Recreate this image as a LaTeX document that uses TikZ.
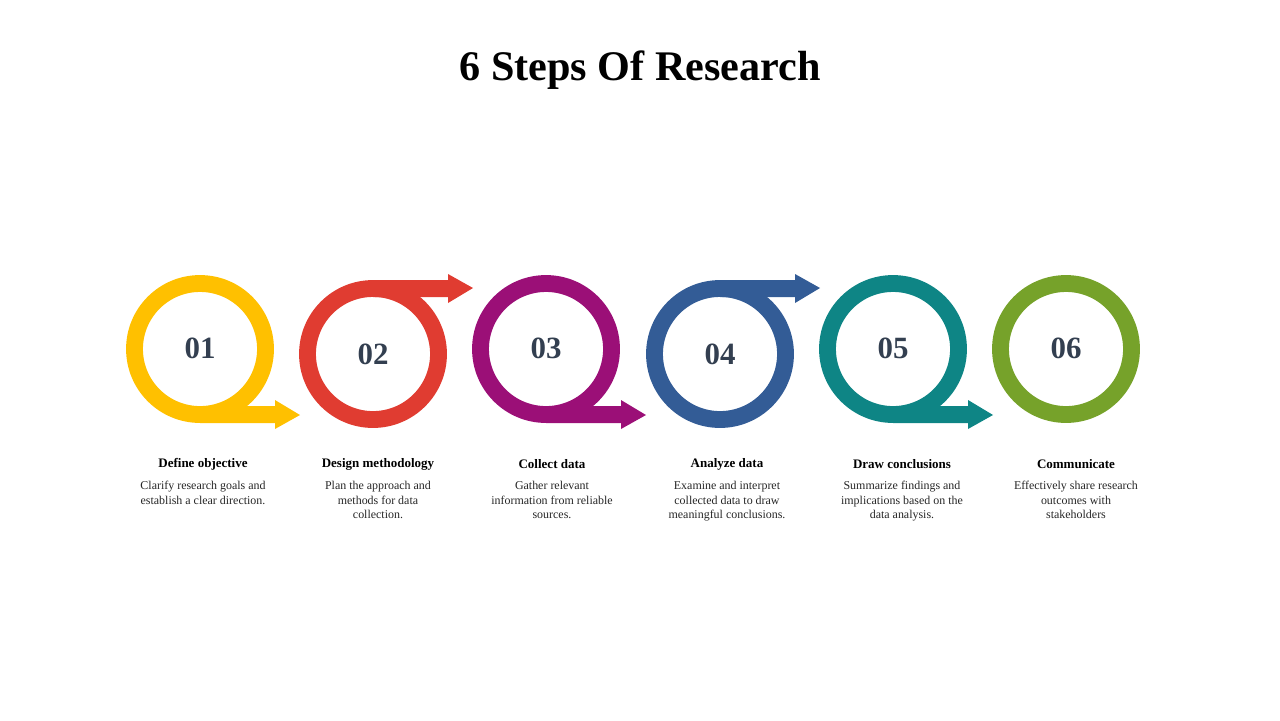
\documentclass[tikz,border=0pt]{standalone}
\usepackage{fontspec}
\setmainfont{Liberation Serif}
\usepackage{xcolor}
\usetikzlibrary{arrows, arrows.meta}
\definecolor{cyel}{HTML}{FFC000}
\definecolor{cred}{HTML}{E03C31}
\definecolor{cpur}{HTML}{9B0F77}
\definecolor{cblu}{HTML}{335C96}
\definecolor{ctea}{HTML}{0E8585}
\definecolor{cgre}{HTML}{76A22A}
\definecolor{cnum}{HTML}{333F50}
\tikzset{
  ring/.style={line width=24pt},
  num/.style={text=cnum, font=\fontsize{44}{44}\selectfont\bfseries},
  head/.style={font=\fontsize{18.5}{20}\selectfont\bfseries, align=center},
  desc/.style={font=\fontsize{17}{20.6}\selectfont, align=center, text=black!85}
}
% arrow along bottom (#4=1) or top (#4=-1) of a ring at (#1,#2)
\newcommand{\ringarrow}[4]{%
  \fill[#3] (#1,#2+#4*57) -- (#1+75,#2+#4*57) -- (#1+75,#2+#4*51) -- (#1+100,#2+#4*66)
    -- (#1+75,#2+#4*80) -- (#1+75,#2+#4*74) -- (#1,#2+#4*74) -- cycle;}
\begin{document}
\begin{tikzpicture}[x=0.05cm,y=-0.05cm]
\useasboundingbox (0,0) rectangle (1280,720);
\node (title) at (640,70) {\fontsize{60}{60}\selectfont\bfseries 6 Steps Of Research};
% rings
\draw[ring,cyel] (200,349) circle (65.5); \ringarrow{200}{349}{cyel}{1}  %1
\draw[ring,cred] (373,354) circle (65.5); \ringarrow{373}{354}{cred}{-1} %2
\draw[ring,cpur] (546,349) circle (65.5); \ringarrow{546}{349}{cpur}{1}  %3
\draw[ring,cblu] (720,354) circle (65.5); \ringarrow{720}{354}{cblu}{-1} %4
\draw[ring,ctea] (893,349) circle (65.5); \ringarrow{893}{349}{ctea}{1}  %5
\draw[ring,cgre] (1066,349) circle (65.5);                              %6
\node[num] (n1) at (200,348) {01};
\node[num] (n2) at (373,354) {02};
\node[num] (n3) at (546,348) {03};
\node[num] (n4) at (720,354) {04};
\node[num] (n5) at (893,348) {05};
\node[num] (n6) at (1066,348) {06};
% labels
\node[head] (h1) at (203,464) {Define objective};
\node[head] (h2) at (378,464) {Design methodology};
\node[head] (h3) at (552,464) {Collect data};
\node[head] (h4) at (727,464) {Analyze data};
\node[head] (h5) at (902,464) {Draw conclusions};
\node[head] (h6) at (1076,464) {Communicate};
\node[desc,anchor=north] (d1) at (203,479) {Clarify research goals and\\establish a clear direction.};
\node[desc,anchor=north] (d2) at (378,479) {Plan the approach and\\methods for data\\collection.};
\node[desc,anchor=north] (d3) at (552,479) {Gather relevant\\information from reliable\\sources.};
\node[desc,anchor=north] (d4) at (727,479) {Examine and interpret\\collected data to draw\\meaningful conclusions.};
\node[desc,anchor=north] (d5) at (902,479) {Summarize findings and\\implications based on the\\data analysis.};
\node[desc,anchor=north] (d6) at (1076,479) {Effectively share research\\outcomes with\\stakeholders};
\end{tikzpicture}
\end{document}
